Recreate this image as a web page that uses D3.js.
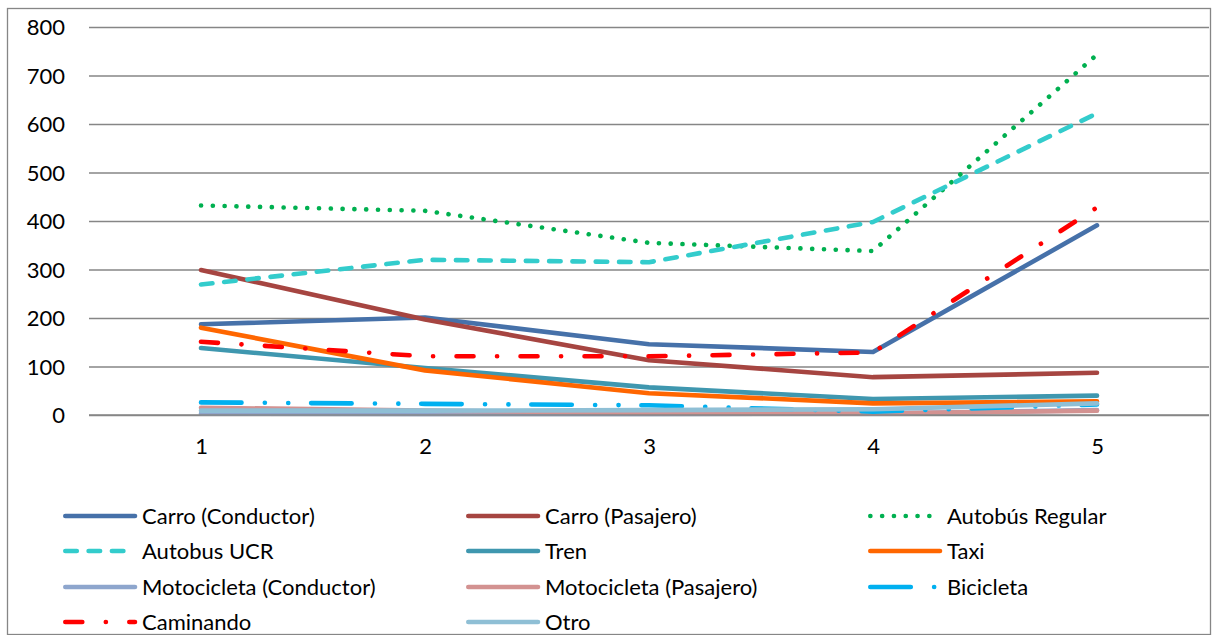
<!DOCTYPE html>
<html>
<head>
<meta charset="utf-8">
<script src="https://cdn.jsdelivr.net/npm/d3@7"></script>
<style>
  html, body { margin: 0; padding: 0; background: #fff; }
  svg text { font-family: Lato, "Liberation Sans", sans-serif; fill: #000; }
</style>
</head>
<body>
<svg id="chart" width="1214" height="635"></svg>
<script>
// Categories on the horizontal axis
const categories = ["1", "2", "3", "4", "5"];

// Series values, one array per mode of transport
const carroConductor   = [187, 201, 146, 130, 391];
const carroPasajero    = [299, 197, 113, 78, 87];
const autobusRegular   = [432, 421, 355, 338, 743];
const autobusUCR       = [269, 320, 315, 398, 622];
const tren             = [138, 97, 57, 33, 40];
const taxi             = [180, 92, 45, 24, 28];
const motoConductor    = [3, 2, 2, 3, 10];
const motoPasajero     = [15, 9, 4, 3, 9];
const bicicleta        = [26, 23, 20, 7, 22];
const caminando        = [151, 121, 121, 129, 428];
const otro             = [9, 9, 10, 12, 24];

// Value axis ticks
const yTicks = [0, 100, 200, 300, 400, 500, 600, 700, 800];

// Series names, in drawing / legend order
const seriesNames = [
  "Carro (Conductor)", "Carro (Pasajero)", "Autobús Regular",
  "Autobus UCR", "Tren", "Taxi",
  "Motocicleta (Conductor)", "Motocicleta (Pasajero)", "Bicicleta",
  "Caminando", "Otro"
];
const seriesValues = [
  carroConductor, carroPasajero, autobusRegular,
  autobusUCR, tren, taxi,
  motoConductor, motoPasajero, bicicleta,
  caminando, otro
];

// Line styles per series
const styles = [
  { color: "#4671A9", dash: null },
  { color: "#A64541", dash: null },
  { color: "#00B050", dash: "0.1 11.7" },
  { color: "#33CCCC", dash: "11.5 11.8" },
  { color: "#3F97AF", dash: null },
  { color: "#FF6600", dash: null },
  { color: "#8EA6CD", dash: null },
  { color: "#D39291", dash: null },
  { color: "#00B0F0", dash: "40.5 23.3 0.1 23.3 0.1 22.8" },
  { color: "#FF0000", dash: "17 23.5 0.1 23.4" },
  { color: "#8FBFD5", dash: null }
];

const svg = d3.select("#chart");
const plot = { left: 89, right: 1209, top: 27, bottom: 415 };
const lineWidth = 4.6;
const fontSize = "22px";

// Chart frame
svg.append("rect")
  .attr("x", 7.5).attr("y", 8.5)
  .attr("width", 1203).attr("height", 626)
  .attr("fill", "#fff").attr("stroke", "#868686").attr("stroke-width", 1.3);

const x = d3.scalePoint().domain(categories).range([plot.left, plot.right]).padding(0.5);
const y = d3.scaleLinear().domain([0, 800]).range([plot.bottom, plot.top]);

// Horizontal gridlines with value labels
const yAxis = svg.append("g")
  .attr("transform", `translate(${plot.left},0)`)
  .call(d3.axisLeft(y).tickValues(yTicks).tickSize(-(plot.right - plot.left)).tickPadding(24));
yAxis.select(".domain").remove();
yAxis.selectAll(".tick line").attr("stroke", "#868686").attr("stroke-width", 1.3);
yAxis.selectAll(".tick text").style("font-size", fontSize).attr("fill", "#000").attr("dy", "0.36em");

// Category axis
const xAxis = svg.append("g")
  .attr("transform", `translate(0,${plot.bottom})`)
  .call(d3.axisBottom(x).tickSize(0).tickPadding(23));
xAxis.select(".domain").remove();
xAxis.selectAll(".tick text").style("font-size", fontSize).attr("fill", "#000");

// Series lines
const line = d3.line()
  .x((d, i) => x(categories[i]))
  .y(d => y(d));

seriesValues.forEach((vals, i) => {
  const p = svg.append("path")
    .datum(vals)
    .attr("d", line)
    .attr("fill", "none")
    .attr("stroke", styles[i].color)
    .attr("stroke-width", lineWidth)
    .attr("stroke-linecap", "round")
    .attr("stroke-linejoin", "round");
  if (styles[i].dash) p.attr("stroke-dasharray", styles[i].dash);
});

// Category axis line over the series
svg.append("line")
  .attr("x1", plot.left).attr("x2", plot.right)
  .attr("y1", plot.bottom).attr("y2", plot.bottom)
  .attr("stroke", "#868686").attr("stroke-width", 1.3);

// Legend in three columns
const legendCols = [63, 466, 868];
const legendRows = [516, 551, 587, 622];
const legend = svg.append("g");
seriesNames.forEach((name, i) => {
  const cx = legendCols[i % 3];
  const cy = legendRows[Math.floor(i / 3)];
  const g = legend.append("g").attr("transform", `translate(${cx},${cy})`);
  const l = g.append("line")
    .attr("x1", 2.3).attr("x2", 72)
    .attr("y1", 0).attr("y2", 0)
    .attr("stroke", styles[i].color)
    .attr("stroke-width", lineWidth)
    .attr("stroke-linecap", "round");
  if (styles[i].dash) l.attr("stroke-dasharray", styles[i].dash);
  g.append("text")
    .attr("x", 79).attr("y", 0).attr("dy", "0.36em")
    .style("font-size", fontSize)
    .text(name);
});
</script>
</body>
</html>
